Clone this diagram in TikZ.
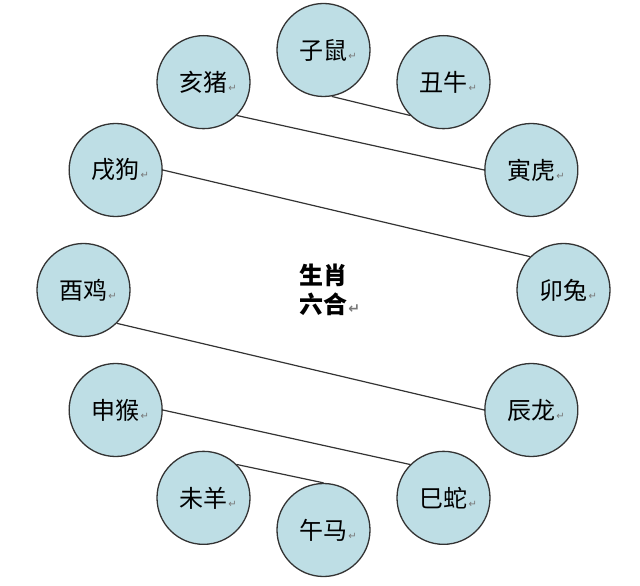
\documentclass[tikz,border=0pt]{standalone}
\usepackage{fontspec}
\newfontfamily\cjk{Noto Sans CJK SC}
\newfontfamily\symfont{DejaVu Sans}
\definecolor{ringblue}{RGB}{190,222,229}
\definecolor{markgray}{RGB}{120,120,120}
\newcommand{\retmark}[1][10]{\rlap{\hspace{1pt}\raisebox{0pt}{\symfont\fontsize{#1}{#1}\selectfont\color{markgray}↵}}}

\begin{document}
\begin{tikzpicture}[x=1pt, y=1pt,
  animal/.style={circle, draw=black!80, line width=1.3pt, fill=ringblue,
    minimum size=93pt, inner sep=0pt, font=\cjk\fontsize{24}{24}\selectfont},
  pairline/.style={-, line width=1.2pt, black!80}]
  \useasboundingbox (-323.5,-296) rectangle (316.5,290);
  \node[animal] (zi)   at (90:240pt)  {子鼠\retmark};
  \node[animal] (chou) at (60:240pt)  {丑牛\retmark};
  \node[animal] (yin)  at (30:240pt)  {寅虎\retmark};
  \node[animal] (mao)  at (0:240pt)   {卯兔\retmark};
  \node[animal] (chen) at (-30:240pt) {辰龙\retmark};
  \node[animal] (si)   at (-60:240pt) {巳蛇\retmark};
  \node[animal] (wu)   at (-90:240pt) {午马\retmark};
  \node[animal] (wei)  at (-120:240pt) {未羊\retmark};
  \node[animal] (shen) at (-150:240pt) {申猴\retmark};
  \node[animal] (you)  at (180:240pt) {酉鸡\retmark};
  \node[animal] (xu)   at (150:240pt) {戌狗\retmark};
  \node[animal] (hai)  at (120:240pt) {亥猪\retmark};
  \node[font=\cjk\bfseries\fontsize{24}{29}\selectfont, align=center] (title) at (0,0) {生肖\\六合\retmark[14]};
  \draw[pairline] (zi.-80) -- (chou.225);
  \draw[pairline] (hai.-45) -- (yin.180);
  \draw[pairline] (xu.0) -- (mao.135);
  \draw[pairline] (you.-45) -- (chen.180);
  \draw[pairline] (shen.0) -- (si.135);
  \draw[pairline] (wei.45) -- (wu.90);
\end{tikzpicture}
\end{document}
